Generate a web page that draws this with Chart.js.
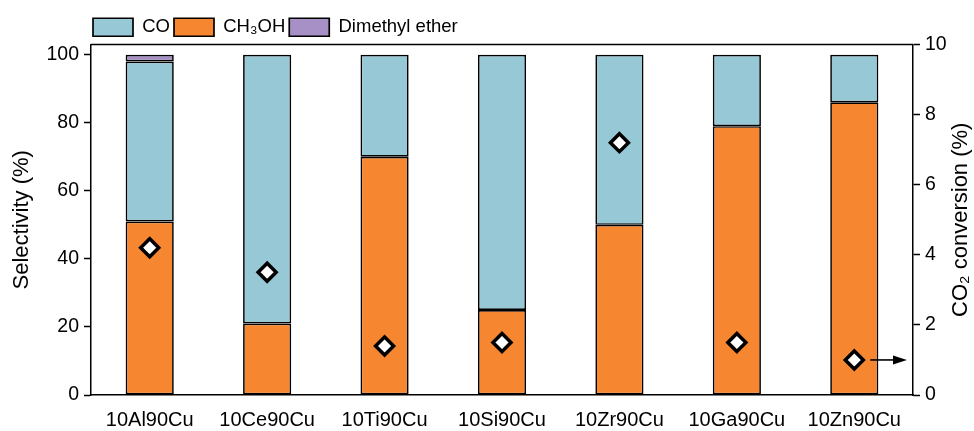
<!DOCTYPE html>
<html>
<head>
<meta charset="utf-8">
<script src="https://cdn.jsdelivr.net/npm/chart.js@4/dist/chart.umd.min.js"></script>
<style>
  html, body { margin: 0; padding: 0; background: #fff; }
  #wrap { width: 974px; height: 431px; }
</style>
</head>
<body>
<div id="wrap"><canvas id="c" width="974" height="431"></canvas></div>
<script>
// Catalysts
const categories = ['10Al90Cu', '10Ce90Cu', '10Ti90Cu', '10Si90Cu', '10Zr90Cu', '10Ga90Cu', '10Zn90Cu'];
// Product selectivity (%), stacked bottom to top
const methanolSel = [51, 21, 70, 25, 50, 79, 86];
const coSel = [47, 79, 30, 75, 50, 21, 14];
const dmeSel = [2, 0, 0, 0, 0, 0, 0];
// CO2 conversion (%), right axis
const co2Conversion = [4.2, 3.5, 1.4, 1.5, 7.2, 1.5, 1.0];
// Axis ticks
const selTicks = [0, 20, 40, 60, 80, 100];
const convTicks = [0, 2, 4, 6, 8, 10];
// Legend order
const legendOrder = ['CO', 'CH₃OH', 'Dimethyl ether'];

const FONT = "'Liberation Sans', Arial, sans-serif";
const BLACK = '#000';
const LEGEND_PAD = 4;

// Frame line across the top of the plot, arrow pointing to the conversion axis,
// right-axis title reading bottom to top, legend aligned with the plot.
const framePlugin = {
  id: 'frame',
  afterLayout(chart) {
    const lg = chart.legend;
    if (lg) {
      const w = lg.right - lg.left;
      lg.left = chart.chartArea.left + 2 - LEGEND_PAD;
      lg.right = lg.left + w;
      lg.top += 2;
      lg.bottom += 2;
    }
  },
  afterDatasetsDraw(chart) {
    const { ctx, chartArea: a, scales } = chart;
    ctx.save();
    ctx.strokeStyle = BLACK;
    ctx.lineWidth = 1.5;
    ctx.beginPath();
    ctx.moveTo(a.left, a.top);
    ctx.lineTo(a.right, a.top);
    ctx.stroke();

    // arrow from the last conversion marker to the right axis
    const i = categories.length - 1;
    const y = scales.y2.getPixelForValue(co2Conversion[i]);
    const x0 = scales.x.getPixelForValue(i) + 16;
    const x1 = a.right - 6;
    ctx.lineWidth = 1.6;
    ctx.beginPath();
    ctx.moveTo(x0, y);
    ctx.lineTo(x1 - 10, y);
    ctx.stroke();
    ctx.fillStyle = BLACK;
    ctx.beginPath();
    ctx.moveTo(x1, y);
    ctx.lineTo(x1 - 14, y - 4.5);
    ctx.lineTo(x1 - 14, y + 4.5);
    ctx.closePath();
    ctx.fill();
    ctx.restore();
  },
  afterDraw(chart) {
    const { ctx, chartArea: a } = chart;
    ctx.save();
    ctx.fillStyle = BLACK;
    ctx.font = '22px ' + FONT;
    ctx.translate(961, (a.top + a.bottom) / 2);
    ctx.rotate(-Math.PI / 2);
    ctx.textAlign = 'center';
    ctx.textBaseline = 'middle';
    ctx.fillText('CO₂ conversion (%)', 0, 0);
    ctx.restore();
  }
};

const barStyle = { borderColor: BLACK, borderWidth: 1.7, borderSkipped: false, order: 2,
  barPercentage: 0.41, categoryPercentage: 1.0, yAxisID: 'y', stack: 's' };

new Chart(document.getElementById('c'), {
  type: 'bar',
  data: {
    labels: categories,
    datasets: [
      Object.assign({ label: 'CH₃OH', data: methanolSel, backgroundColor: '#f6862f' }, barStyle),
      Object.assign({ label: 'CO', data: coSel, backgroundColor: '#97c8d6' }, barStyle),
      Object.assign({ label: 'Dimethyl ether', data: dmeSel, backgroundColor: '#a690c6' }, barStyle),
      {
        type: 'line', label: 'CO₂ conversion', data: co2Conversion, yAxisID: 'y2', order: 0,
        showLine: false, pointStyle: 'rectRot', pointRadius: 9, pointHoverRadius: 9,
        pointBorderWidth: 3.5, pointBackgroundColor: '#fff', pointBorderColor: BLACK
      }
    ]
  },
  options: {
    responsive: false,
    animation: false,
    devicePixelRatio: 1,
    layout: { padding: { top: 12, left: 0, right: 0, bottom: 0 } },
    plugins: {
      tooltip: { enabled: false },
      legend: {
        position: 'top',
        align: 'start',
        labels: {
          color: BLACK,
          font: { family: FONT, size: 18.5 },
          boxWidth: 40,
          boxHeight: 18,
          padding: LEGEND_PAD,
          filter: (item) => legendOrder.includes(item.text),
          sort: (a, b) => legendOrder.indexOf(a.text) - legendOrder.indexOf(b.text)
        }
      }
    },
    scales: {
      x: {
        offset: true,
        grid: { display: false, drawTicks: false },
        border: { display: true, color: BLACK, width: 1.5 },
        ticks: { color: BLACK, font: { family: FONT, size: 20 }, padding: 13, maxRotation: 0 },
        afterFit: (s) => { s.height = 36; }
      },
      y: {
        position: 'left',
        min: 0, max: 103,
        afterBuildTicks: (s) => { s.ticks = selTicks.map(v => ({ value: v })); },
        grid: { drawOnChartArea: false, drawTicks: true, tickLength: 7, color: BLACK, tickWidth: 1.5 },
        border: { display: true, color: BLACK, width: 1.5 },
        ticks: { color: BLACK, font: { family: FONT, size: 19.5 }, padding: 5 },
        title: { display: true, text: 'Selectivity (%)', color: BLACK, font: { family: FONT, size: 22 }, padding: { top: 9, bottom: 8 } },
        afterFit: (s) => { s.width = 91; }
      },
      y2: {
        position: 'right',
        min: 0, max: 10,
        afterBuildTicks: (s) => { s.ticks = convTicks.map(v => ({ value: v })); },
        grid: { drawOnChartArea: false, drawTicks: true, tickLength: 7, color: BLACK, tickWidth: 1.5 },
        border: { display: true, color: BLACK, width: 1.5 },
        ticks: { color: BLACK, font: { family: FONT, size: 19.5 }, padding: 5 },
        afterFit: (s) => { s.width = 61; }
      }
    }
  },
  plugins: [framePlugin]
});
</script>
</body>
</html>
